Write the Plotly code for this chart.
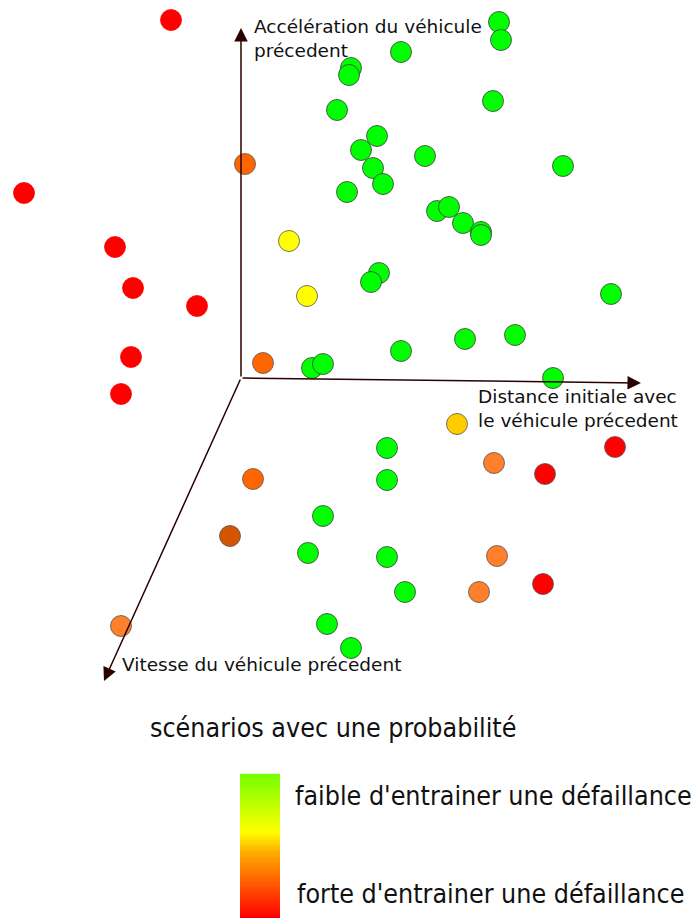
import plotly.graph_objects as go

# Scenario points (schematic positions in picture units)
green_x = [499, 501, 401, 351, 349, 337, 493, 377, 361, 373, 383, 347, 425, 563, 437, 449, 463, 481, 481,
           379, 371, 611, 515, 465, 401, 553, 312, 323,
           387, 387, 323, 308, 387, 405, 327, 351]
green_y = [22, 40, 52, 68, 75, 110, 101, 136, 150, 168, 184, 192, 156, 166, 211, 207, 223, 232, 235,
           273, 282, 294, 335, 339, 351, 378, 368, 364,
           448, 480, 516, 553, 557, 592, 624, 648]
yellow_x = [289, 307, 457]
yellow_y = [241, 296, 424]
yellow_c = ["#ffff00", "#ffff00", "#ffcc00"]
orange_x = [245, 263, 253, 230, 121, 494, 497, 479]
orange_y = [164, 363, 479, 536, 626, 463, 556, 592]
orange_c = ["#ff6600", "#ff6600", "#ff6600", "#d45500", "#ff7f2a", "#ff7f2a", "#ff7f2a", "#ff7f2a"]
red_x = [171, 24, 115, 133, 197, 131, 121, 615, 545, 543]
red_y = [20, 193, 247, 288, 306, 357, 394, 447, 474, 584]
red_outline = [False] * 7 + [True] * 3

# Legend gradient (0 = high failure probability, 1 = low)
grad_levels = [i / 60 for i in range(61)]

OFF = 8  # page body margin

fig = go.Figure()

fig.add_trace(go.Heatmap(
    z=[[v] for v in grad_levels[::-1]],
    x0=260, dx=40, y0=775, dy=(918 - 775) / 60,
    colorscale=[[0, "#ff0000"], [0.45, "#ffaa00"], [0.6, "#ffff00"], [1, "#77ff00"]],
    showscale=False, hoverinfo="skip"))

mk = dict(size=21)
fig.add_trace(go.Scatter(x=green_x, y=green_y, mode="markers",
                         marker=dict(color="#00ff00", line=dict(color="#3a3a3a", width=0.8), **mk)))
fig.add_trace(go.Scatter(x=yellow_x, y=yellow_y, mode="markers",
                         marker=dict(color=yellow_c, line=dict(color="#555555", width=0.8), **mk)))
fig.add_trace(go.Scatter(x=orange_x, y=orange_y, mode="markers",
                         marker=dict(color=orange_c, line=dict(color="#555555", width=0.8), **mk)))
fig.add_trace(go.Scatter(x=red_x, y=red_y, mode="markers",
                         marker=dict(color="#ff0000",
                                     line=dict(color=["#555555" if o else "#ff0000" for o in red_outline],
                                               width=0.8), **mk)))

axis_col = "#2b0000"
arrows = [((241, 378), (241, 28)), ((241, 378), (641, 383)), ((241, 378), (104, 681))]
for (tx, ty), (hx, hy) in arrows:
    fig.add_annotation(x=hx, y=hy, ax=tx, ay=ty, xref="x", yref="y", axref="x", ayref="y",
                       showarrow=True, arrowhead=2, arrowsize=1.8, arrowwidth=1.5,
                       arrowcolor=axis_col, text="")

lab_font = dict(family="DejaVu Sans", size=18.5, color="#111111")
fig.add_annotation(x=252, y=14, text="Accélération du véhicule<br>précedent", xref="x", yref="y",
                   xanchor="left", yanchor="top", align="left", showarrow=False, font=lab_font)
fig.add_annotation(x=476, y=384, text="Distance initiale avec<br>le véhicule précedent", xref="x", yref="y",
                   xanchor="left", yanchor="top", align="left", showarrow=False, font=lab_font)
fig.add_annotation(x=120, y=664, text="Vitesse du véhicule précedent", xref="x", yref="y",
                   xanchor="left", yanchor="middle", align="left", showarrow=False, font=lab_font)

big_font = dict(family="DejaVu Sans Condensed, DejaVu Sans", size=26.6, color="#111111")
fig.add_annotation(x=148, y=727, text="scénarios avec une probabilité", xref="x", yref="y",
                   xanchor="left", yanchor="middle", showarrow=False, font=big_font)
fig.add_annotation(x=293, y=795, text="faible d'entrainer une défaillance", xref="x", yref="y",
                   xanchor="left", yanchor="middle", showarrow=False, font=big_font)
fig.add_annotation(x=295, y=893, text="forte d'entrainer une défaillance", xref="x", yref="y",
                   xanchor="left", yanchor="middle", showarrow=False, font=big_font)

fig.update_layout(width=700, height=918, margin=dict(l=0, r=0, t=0, b=0),
                  paper_bgcolor="white", plot_bgcolor="white", showlegend=False)
fig.update_xaxes(range=[OFF, 700 + OFF], visible=False, showgrid=False, zeroline=False)
fig.update_yaxes(range=[918 + OFF, OFF], visible=False, showgrid=False, zeroline=False)

fig.write_html("out.html")
